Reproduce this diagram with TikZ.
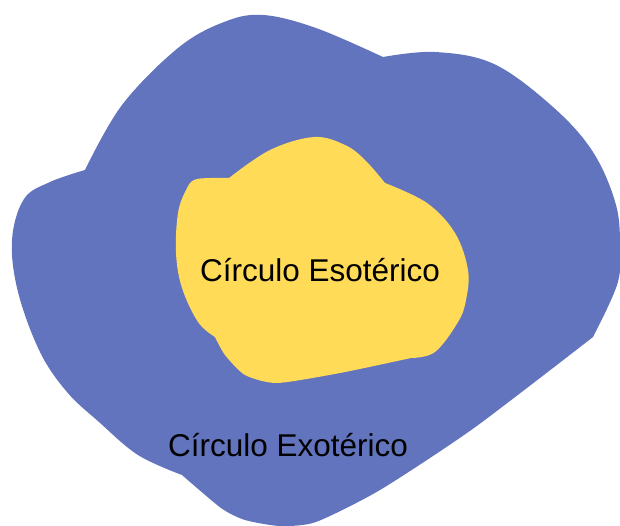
\documentclass[tikz,border=0pt]{standalone}
\usepackage{fontspec}
\setmainfont{Liberation Sans}
\usepackage{tikz}
\definecolor{outercolor}{HTML}{6274BE}
\definecolor{innercolor}{HTML}{FFDB58}
\tikzset{
  outer blob/.style={fill=outercolor,draw=none},
  inner blob/.style={fill=innercolor,draw=none},
  blob label/.style={font=\fontsize{31.5}{36}\selectfont,text=black,inner sep=0pt}
}
\begin{document}
\begin{tikzpicture}[x=1pt,y=-1pt]
  \useasboundingbox (0,0) rectangle (620,525);
  % outer circle
  \fill[outer blob]
    plot[smooth,tension=.6] coordinates {(85,170) (122,105) (178,48) (224,22) (263,15) (316,28) (383,57)}
    -- plot[smooth,tension=.6] coordinates {(383,57) (435,52) (494,64) (553,107) (593,152) (616,205) (620,250) (617,285) (593,337)}
    -- plot[smooth,tension=.4] coordinates {(593,337) (474,428) (380,490) (316,522) (280,526) (245,520) (221,508) (182,475)}
    -- plot[smooth,tension=.6] coordinates {(182,475) (138,455) (99,422) (67,392) (40,352) (18,292) (12,240) (24,199) (50,182) (85,170)}
    -- cycle;
  % inner circle
  \fill[inner blob]
    plot[smooth,tension=.6] coordinates {(229,178) (270,150) (314,137) (345,145) (365,160) (385,183)}
    -- plot[smooth,tension=.6] coordinates {(385,183) (427,203) (455,233) (468,270) (466,300) (458,322) (435,352) (411,358)}
    -- plot[smooth,tension=.4] coordinates {(411,358) (340,373) (277,383) (245,375) (225,355) (215,337)}
    -- plot[smooth,tension=.6] coordinates {(215,337) (198,322) (182,288) (176,253) (178,213) (186,190) (194,180) (210,178) (229,178)}
    -- cycle;
  \node[blob label] (esoteric) at (320,270) {Círculo Esotérico};
  \node[blob label] (exoteric) at (288,445) {Círculo Exotérico};
\end{tikzpicture}
\end{document}
